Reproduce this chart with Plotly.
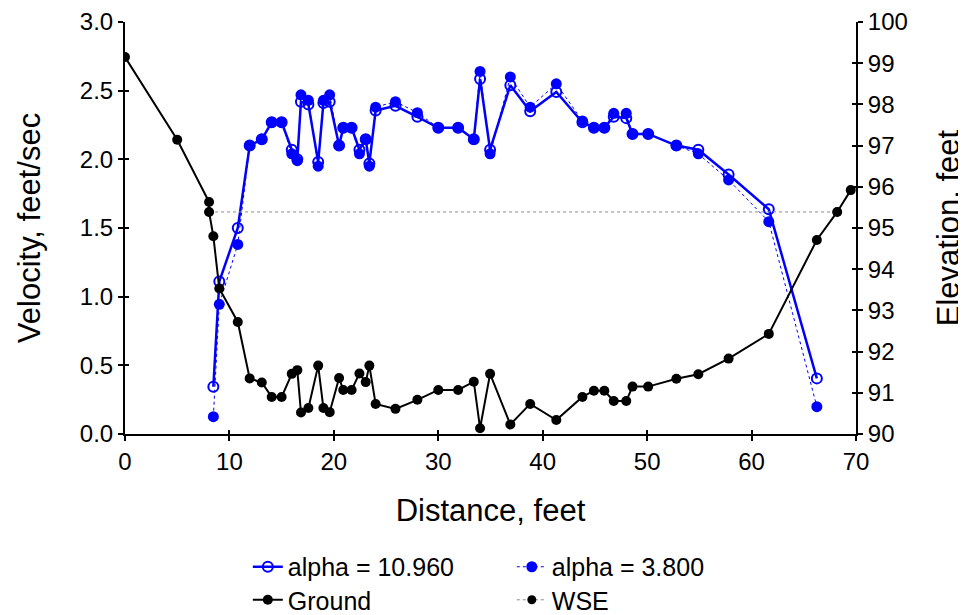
import plotly.graph_objects as go

# ---- data ----
ground_x = [0, 5.0, 8.05, 8.05, 8.46, 9.03, 10.8, 11.94, 13.1, 14.05, 15.0, 15.97, 16.5, 16.85,
            17.56, 18.5, 19.0, 19.6, 20.5, 20.9, 21.7, 22.45, 23.05, 23.4, 24.0, 25.9, 28.0,
            30.0, 31.9, 33.4, 34.0, 34.96, 36.9, 38.8, 41.3, 43.8, 44.9, 45.9, 46.8, 48.0, 48.6,
            50.1, 52.8, 54.9, 57.8, 61.65, 66.25, 68.2, 69.5]
ground_elev = [99.15, 97.14, 95.63, 95.39, 94.8, 93.53, 92.72, 91.35, 91.25, 90.9, 90.9, 91.46,
               91.55, 90.52, 90.63, 91.66, 90.63, 90.53, 91.36, 91.07, 91.07, 91.47, 91.26, 91.66,
               90.73, 90.61, 90.83, 91.07, 91.07, 91.27, 90.14, 91.46, 90.23, 90.73, 90.34, 90.9,
               91.05, 91.05, 90.8, 90.8, 91.15, 91.15, 91.34, 91.45, 91.83, 92.43, 94.71, 95.39,
               95.92]

vel_x = [8.46, 9.03, 10.8, 11.94, 13.1, 14.05, 15.0, 15.97, 16.5, 16.85, 17.56, 18.5, 19.0,
         19.6, 20.5, 20.9, 21.7, 22.45, 23.05, 23.4, 24.0, 25.9, 28.0, 30.0, 31.9, 33.4, 34.0,
         34.96, 36.9, 38.8, 41.3, 43.8, 44.9, 45.9, 46.8, 48.0, 48.6, 50.1, 52.8, 54.9, 57.8,
         61.65, 66.25]
vel_alpha_10960 = [0.344, 1.11, 1.50, 2.10, 2.146, 2.27, 2.27, 2.07, 2.00, 2.42, 2.40, 1.98, 2.41,
                   2.42, 2.10, 2.23, 2.23, 2.07, 2.146, 1.97, 2.355, 2.39, 2.31, 2.23, 2.23, 2.146,
                   2.585, 2.07, 2.54, 2.35, 2.49, 2.27, 2.23, 2.23, 2.31, 2.30, 2.185, 2.185, 2.10,
                   2.07, 1.89, 1.636, 0.405]
vel_alpha_3800 = [0.126, 0.944, 1.38, 2.10, 2.146, 2.27, 2.27, 2.04, 1.99, 2.47, 2.43, 1.95, 2.43,
                  2.47, 2.10, 2.23, 2.23, 2.04, 2.146, 1.95, 2.38, 2.42, 2.34, 2.23, 2.23, 2.146,
                  2.64, 2.04, 2.60, 2.38, 2.55, 2.28, 2.23, 2.23, 2.335, 2.335, 2.185, 2.185, 2.10,
                  2.04, 1.85, 1.546, 0.199]

wse_x = [8.05, 68.2]
wse_elev = [95.39, 95.39]

x_ticks = [0, 10, 20, 30, 40, 50, 60, 70]
vel_ticks = [0.0, 0.5, 1.0, 1.5, 2.0, 2.5, 3.0]
elev_ticks = [90, 91, 92, 93, 94, 95, 96, 97, 98, 99, 100]

FONT = "Liberation Sans, Arial, sans-serif"
BLUE = "#0000FF"

fig = go.Figure()

fig.add_trace(go.Scatter(
    x=wse_x, y=wse_elev, yaxis="y2", name="WSE", legend="legend2",
    mode="lines+markers",
    line=dict(color="#8c8c8c", width=1, dash="dot"),
    marker=dict(color="black", size=9)))

fig.add_trace(go.Scatter(
    x=ground_x, y=ground_elev, yaxis="y2", name="Ground", legend="legend2",
    mode="lines+markers",
    line=dict(color="black", width=2),
    marker=dict(color="black", size=10)))

fig.add_trace(go.Scatter(
    x=vel_x, y=vel_alpha_3800, name="alpha = 3.800", legend="legend",
    mode="lines+markers",
    line=dict(color=BLUE, width=1, dash="dot"),
    marker=dict(color=BLUE, size=11)))

fig.add_trace(go.Scatter(
    x=vel_x, y=vel_alpha_10960, name="alpha = 10.960", legend="legend",
    mode="lines+markers",
    line=dict(color=BLUE, width=2.5),
    marker=dict(color=BLUE, size=10, symbol="circle-open", line=dict(color=BLUE, width=2))))

axis_common = dict(showgrid=False, zeroline=False, showline=True, linecolor="black",
                   linewidth=2, ticks="outside", ticklen=5, tickwidth=2, tickcolor="black",
                   automargin=False,
                   tickfont=dict(family=FONT, size=24, color="black"))

TITLE_SIZE = 31
LEG_SIZE = 25

# page body has an 8px margin, so the figure is sized to the visible area
fig.update_layout(
    width=958, height=607,
    margin=dict(l=117, r=110, t=14, b=181, autoexpand=False),
    paper_bgcolor="white", plot_bgcolor="white",
    font=dict(family=FONT, color="black"),
    xaxis=dict(range=[0, 70], tickvals=x_ticks,
               title=dict(text="Distance, feet", font=dict(family=FONT, size=TITLE_SIZE), standoff=26),
               **axis_common),
    yaxis=dict(range=[0, 3], tickvals=vel_ticks, tickformat=".1f",
               title=dict(text="Velocity, feet/sec", font=dict(family=FONT, size=TITLE_SIZE), standoff=30),
               **axis_common),
    yaxis2=dict(range=[90, 100], tickvals=elev_ticks, overlaying="y", side="right",
                title=dict(text="Elevation, feet", font=dict(family=FONT, size=TITLE_SIZE), standoff=30),
                **axis_common),
    xaxis2=dict(range=[0, 70], tickvals=x_ticks, overlaying="x", side="bottom", anchor="y",
                showgrid=False, zeroline=False, showline=False, showticklabels=False,
                ticks="inside", ticklen=4, tickwidth=2, tickcolor="black"),
    yaxis3=dict(range=[0, 3], tickvals=vel_ticks, overlaying="y", side="left", anchor="x",
                showgrid=False, zeroline=False, showline=False, showticklabels=False,
                ticks="inside", ticklen=4, tickwidth=2, tickcolor="black"),
    yaxis4=dict(range=[90, 100], tickvals=elev_ticks, overlaying="y", side="right", anchor="x",
                showgrid=False, zeroline=False, showline=False, showticklabels=False,
                ticks="inside", ticklen=4, tickwidth=2, tickcolor="black"),
    legend=dict(orientation="h", x=0.168, xanchor="left", y=-0.3228, yanchor="middle",
                traceorder="reversed", entrywidth=219, entrywidthmode="pixels",
                font=dict(family=FONT, size=LEG_SIZE), bgcolor="rgba(0,0,0,0)"),
    legend2=dict(orientation="h", x=0.168, xanchor="left", y=-0.403, yanchor="middle",
                 traceorder="reversed", entrywidth=219, entrywidthmode="pixels",
                 font=dict(family=FONT, size=LEG_SIZE), bgcolor="rgba(0,0,0,0)"),
)

# empty helper traces so the overlay tick axes are drawn
fig.add_trace(go.Scatter(x=[], y=[], xaxis="x2", yaxis="y3", showlegend=False, hoverinfo="skip"))
fig.add_trace(go.Scatter(x=[], y=[], xaxis="x", yaxis="y4", showlegend=False, hoverinfo="skip"))

fig.write_html("out.html")
